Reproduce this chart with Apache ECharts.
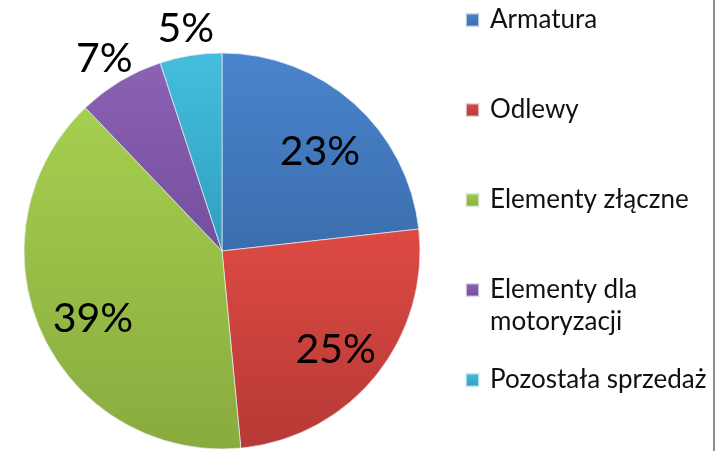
<!DOCTYPE html>
<html>
<head>
<meta charset="utf-8">
<style>
  html, body { margin: 0; padding: 0; background: #fff; }
  #chart { width: 724px; height: 451px; }
</style>
<script src="https://cdn.jsdelivr.net/npm/echarts@6/dist/echarts.min.js"></script>
</head>
<body>
<div id="chart"></div>
<script>
// segments, clockwise from 12 o'clock
const categories = ['Armatura', 'Odlewy', 'Elementy złączne', 'Elementy dla motoryzacji', 'Pozostała sprzedaż'];
const shares = [23, 25, 39, 7, 5];
// top / bottom gradient colours per slice
const topColors = ['#4a84cc', '#de4a44', '#a5cf4f', '#8c62b4', '#45bedd'];
const bottomColors = ['#3a6eae', '#b63935', '#89ab3e', '#744e9c', '#2f9fbe'];

const FONT = 'Lato, "Open Sans", sans-serif';

const sliceData = categories.map((name, i) => ({
  name: name,
  value: shares[i],
  itemStyle: {
    color: new echarts.graphic.LinearGradient(0, 0, 0, 1, [
      { offset: 0, color: topColors[i] },
      { offset: 1, color: bottomColors[i] }
    ])
  }
}));

// label-only rings: big slices get label inside, small ones sit beyond the rim
const labelData = (show) => categories.map((name, i) => ({
  name: name,
  value: shares[i],
  label: { show: show(i) }
}));

const center = [222, 251];
const labelCenter = [224, 259];

const legendBase = {
  orient: 'vertical', left: 465, padding: 0,
  itemWidth: 13, itemHeight: 13, icon: 'rect',
  selectedMode: false,
  formatter: n => '{t|' + (n === categories[3] ? 'Elementy dla' : n) + '}',
  textStyle: {
    fontFamily: FONT, fontSize: 26, color: '#111', lineHeight: 32,
    rich: { t: { fontFamily: FONT, fontSize: 26, color: '#111', padding: [0, 0, 0, 6] } }
  }
};

const option = {
  animation: false,
  legend: [
    Object.assign({}, legendBase, { top: 4, itemGap: 58, data: categories.slice(0, 3) }),
    Object.assign({}, legendBase, { top: 274, data: [categories[3]] }),
    Object.assign({}, legendBase, { top: 364, data: [categories[4]] })
  ],
  graphic: [
    { type: 'text', left: 490, top: 309, style: { text: 'motoryzacji', font: '26px ' + FONT, fill: '#111' } },
    { type: 'line', shape: { x1: 714, y1: 0, x2: 714, y2: 451 }, style: { stroke: '#8c8c8c', lineWidth: 2 } }
  ],
  series: [
    {
      type: 'pie',
      center: center,
      radius: [0, 198],
      startAngle: 90,
      clockwise: true,
      silent: true,
      label: { show: false },
      labelLine: { show: false },
      itemStyle: { borderColor: 'rgba(230,240,245,0.7)', borderWidth: 1 },
      data: sliceData
    },
    {
      type: 'pie',
      center: labelCenter,
      radius: [0, 282],
      startAngle: 90,
      silent: true,
      itemStyle: { color: 'rgba(0,0,0,0)' },
      label: { position: 'inside', formatter: '{c}%', fontFamily: FONT, fontSize: 41, color: '#000' },
      labelLine: { show: false },
      data: labelData(i => i < 3)
    },
    {
      type: 'pie',
      center: [222, 255],
      radius: [0, 452],
      startAngle: 90,
      silent: true,
      itemStyle: { color: 'rgba(0,0,0,0)' },
      label: { position: 'inside', formatter: '{c}%', fontFamily: FONT, fontSize: 41, color: '#000' },
      labelLine: { show: false },
      data: labelData(i => i >= 3)
    }
  ]
};

const chart = echarts.init(document.getElementById('chart'));
chart.setOption(option);
</script>
</body>
</html>
